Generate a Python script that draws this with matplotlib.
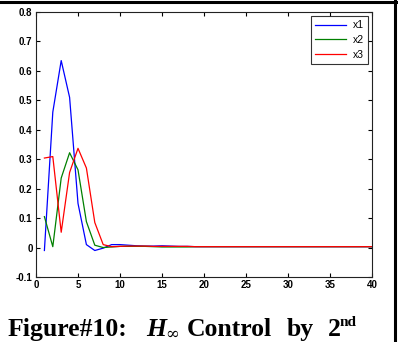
import matplotlib
matplotlib.use("Agg")
import matplotlib.pyplot as plt
from matplotlib.lines import Line2D

steps = list(range(1, 41))
x1 = [-0.01, 0.46, 0.635, 0.51, 0.15, 0.01, -0.01, -0.002, 0.01, 0.01,
      0.008, 0.006, 0.005, 0.005, 0.006, 0.005, 0.004, 0.004, 0.003, 0.003,
      0.003, 0.003, 0.003, 0.003, 0.003, 0.003, 0.003, 0.003, 0.003, 0.003,
      0.003, 0.003, 0.003, 0.003, 0.003, 0.003, 0.003, 0.003, 0.003, 0.003]
x2 = [0.105, 0.003, 0.236, 0.322, 0.264, 0.088, 0.008, 0.0, 0.002, 0.004,
      0.004, 0.004, 0.004, 0.003, 0.002, 0.002, 0.002, 0.002, 0.003, 0.003,
      0.003, 0.003, 0.003, 0.003, 0.003, 0.003, 0.003, 0.003, 0.003, 0.003,
      0.003, 0.003, 0.003, 0.003, 0.003, 0.003, 0.003, 0.003, 0.003, 0.003]
x3 = [0.304, 0.309, 0.052, 0.255, 0.337, 0.27, 0.085, 0.01, 0.003, 0.004,
      0.005, 0.005, 0.005, 0.004, 0.004, 0.004, 0.004, 0.004, 0.003, 0.003,
      0.003, 0.003, 0.003, 0.003, 0.003, 0.003, 0.003, 0.003, 0.003, 0.003,
      0.003, 0.003, 0.003, 0.003, 0.003, 0.003, 0.003, 0.003, 0.003, 0.003]
series = [("x1", x1, "#0000ff"), ("x2", x2, "#008000"), ("x3", x3, "#ff0000")]
xticks = [0, 5, 10, 15, 20, 25, 30, 35, 40]
yticks = [-0.1, 0, 0.1, 0.2, 0.3, 0.4, 0.5, 0.6, 0.7, 0.8]
ytick_labels = ["-0.1", "0", "0.1", "0.2", "0.3", "0.4", "0.5", "0.6", "0.7", "0.8"]

fig = plt.figure(figsize=(3.98, 3.42), dpi=100)
ax = fig.add_axes([36/398, 1-277/342, (372-36)/398, (277-12)/342])
for name, vals, col in series:
    ax.plot(steps, vals, color=col, lw=0.9, label=name)
ax.set_xlim(0, 40)
ax.set_ylim(-0.1, 0.8)
ax.set_xticks(xticks)
ax.set_xticklabels([str(t) for t in xticks])
ax.set_yticks(yticks)
ax.set_yticklabels(ytick_labels)
ax.tick_params(direction="in", length=3, width=0.8, top=True, right=True,
               labelsize=7, pad=2.5)
for lab in ax.get_xticklabels() + ax.get_yticklabels():
    lab.set_fontweight("bold")
    lab.set_family("Liberation Sans")
for sp in ax.spines.values():
    sp.set_linewidth(0.8)
    sp.set_color("#222222")
leg = ax.legend(loc="upper right", frameon=True, fancybox=False,
                edgecolor="black", borderpad=0.4, handlelength=3.0,
                labelspacing=0.45, handletextpad=0.6, borderaxespad=0.4,
                prop={"family": "Liberation Sans", "size": 7.5})
leg.get_frame().set_linewidth(0.8)

# page borders
fig.add_artist(Line2D([0, 1], [1-1.5/342, 1-1.5/342], color="black", lw=2.2,
                      transform=fig.transFigure))
fig.add_artist(Line2D([394.5/398, 394.5/398], [0, 1], color="black", lw=2.2,
                      transform=fig.transFigure))

# caption
fy = 1 - 336/342
kw = dict(transform=fig.transFigure, fontsize=18.5, fontweight="bold",
          family="Liberation Serif", va="baseline", ha="left")
fig.text(8/398, fy, "Figure#10:", **kw)
fig.text(146/398, fy, "H", fontstyle="italic", **kw)
fig.text(187/398, fy, "Control", **kw)
fig.text(287/398, fy, "by", **kw)
fig.text(328/398, fy, "2", **kw)
kw2 = dict(kw)
kw2["fontsize"] = 11
fig.text(340/398, 1 - 326/342, "nd", **kw2)
fig.text(165/398, 1 - 339/342, "∞", transform=fig.transFigure, fontsize=12,
         family="DejaVu Serif", va="baseline", ha="left")

fig.savefig("out.png", dpi=100)
